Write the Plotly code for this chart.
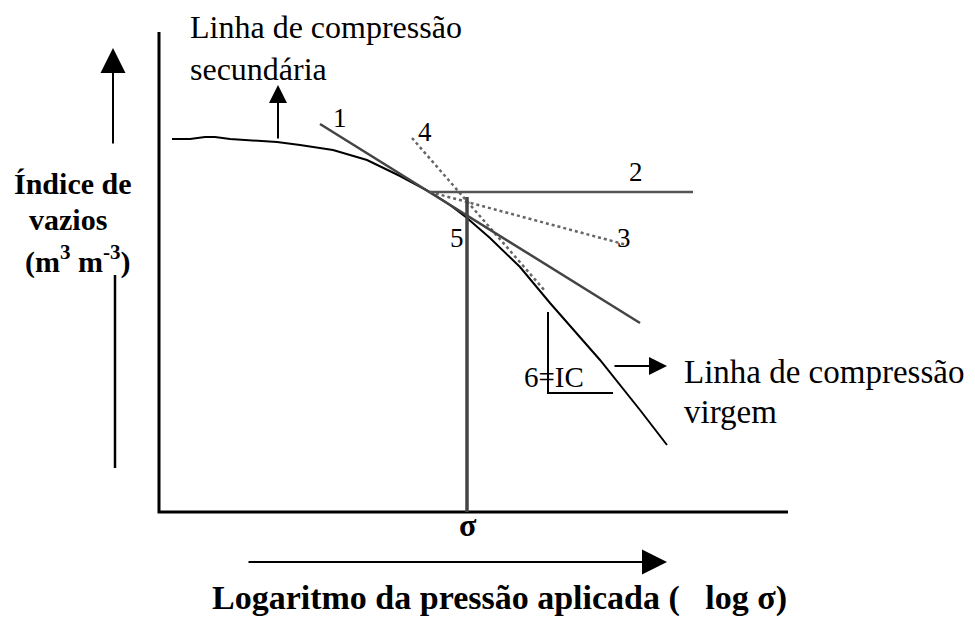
import plotly.graph_objects as go

# Schematic in image-like coordinates (x to the right, y downward)
curve_x = [172, 190, 205, 215, 230, 250, 277, 300, 333, 367, 400, 430, 450, 467, 490, 520, 550, 600, 640, 667]
curve_y = [139, 139, 137, 137, 139, 140, 142, 145, 150, 160, 176, 192, 205, 218, 238, 267, 303, 360, 410, 445]

tangent_x = [320, 640]        # line 1
tangent_y = [124, 323]
horiz_x = [430, 693]          # line 2
horiz_y = [192, 192]
bisector_x = [430, 627]       # line 3
bisector_y = [192, 245]
virgin_ext_x = [412, 545]     # line 4
virgin_ext_y = [138, 291]
sigma_x = [467, 467]          # line 5
sigma_y = [197, 512]
ic_x = [548, 548, 613]        # 6 = IC
ic_y = [312, 393, 393]

axis_x = [159, 159, 788]
axis_y = [32, 512, 512]
yarrow_low_x = [115, 115]
yarrow_low_y = [275, 468]

labels = ["1", "2", "3", "4", "5"]
label_x = [340, 636, 624, 425, 457]
label_y = [118, 172, 238, 132, 238]

FONT = "Liberation Serif"
PAGE_MARGIN = 8  # default body margin of the html page

fig = go.Figure()


def seg(x, y, color="black", width=2, dash="solid"):
    fig.add_trace(go.Scatter(x=x, y=y, mode="lines", hoverinfo="skip",
                             line=dict(color=color, width=width, dash=dash)))


seg(axis_x, axis_y, "black", 3)
seg(yarrow_low_x, yarrow_low_y, "black", 2.5)
seg(curve_x, curve_y, "black", 2)
seg(virgin_ext_x, virgin_ext_y, "#666666", 2.5, "dot")
seg(bisector_x, bisector_y, "#666666", 2.5, "dot")
seg(tangent_x, tangent_y, "#444444", 2.5)
seg(horiz_x, horiz_y, "#555555", 2.5)
seg(sigma_x, sigma_y, "#444444", 3.5)
seg(ic_x, ic_y, "black", 2)

# arrows: (tail_x, tail_y, tip_x, tip_y, size)
arrows = [
    (113, 145, 113, 48, 2.5),
    (278, 140, 278, 85, 1.8),
    (247, 562, 667, 562, 2.5),
    (613, 366, 667, 366, 1.8),
]
for ax_, ay_, x_, y_, s in arrows:
    fig.add_annotation(x=x_, y=y_, ax=ax_, ay=ay_, xref="x", yref="y", axref="x", ayref="y",
                       text="", showarrow=True, arrowhead=2, arrowsize=s, arrowwidth=2,
                       arrowcolor="black")

# texts: (text, x, y, anchor, size, bold)
texts = [
    ("Linha de compressão", 188, 27, "left", 32, False),
    ("secundária", 188, 69, "left", 32, False),
    ("Linha de compressão", 682, 372, "left", 33, False),
    ("virgem", 682, 412, "left", 33, False),
    ("6=IC", 554, 377, "center", 29, False),
    ("Índice de", 73, 183, "center", 30, True),
    ("vazios", 68, 219, "center", 30, True),
    ("(m<sup>3</sup> m<sup>-3</sup>)", 77, 259, "center", 30, True),
    ("σ", 468, 525, "center", 32, True),
    ("Logaritmo da pressão aplicada (\u00a0\u00a0 log σ)", 499, 598, "center", 34, True),
]
for t, x_, y_, anc, sz, bold in texts:
    fig.add_annotation(x=x_, y=y_, xref="x", yref="y", text=f"<b>{t}</b>" if bold else t,
                       showarrow=False, xanchor=anc, yanchor="middle",
                       font=dict(family=FONT, size=sz, color="black"))

for t, x_, y_ in zip(labels, label_x, label_y):
    fig.add_annotation(x=x_, y=y_, xref="x", yref="y", text=t, showarrow=False,
                       font=dict(family=FONT, size=27, color="black"))

fig.update_layout(
    width=975 - PAGE_MARGIN, height=619 - PAGE_MARGIN,
    margin=dict(l=0, r=0, t=0, b=0),
    paper_bgcolor="white", plot_bgcolor="white",
    showlegend=False,
    xaxis=dict(range=[PAGE_MARGIN, 975], visible=False, fixedrange=True),
    yaxis=dict(range=[619, PAGE_MARGIN], visible=False, fixedrange=True),
)

fig.write_html("out.html")
